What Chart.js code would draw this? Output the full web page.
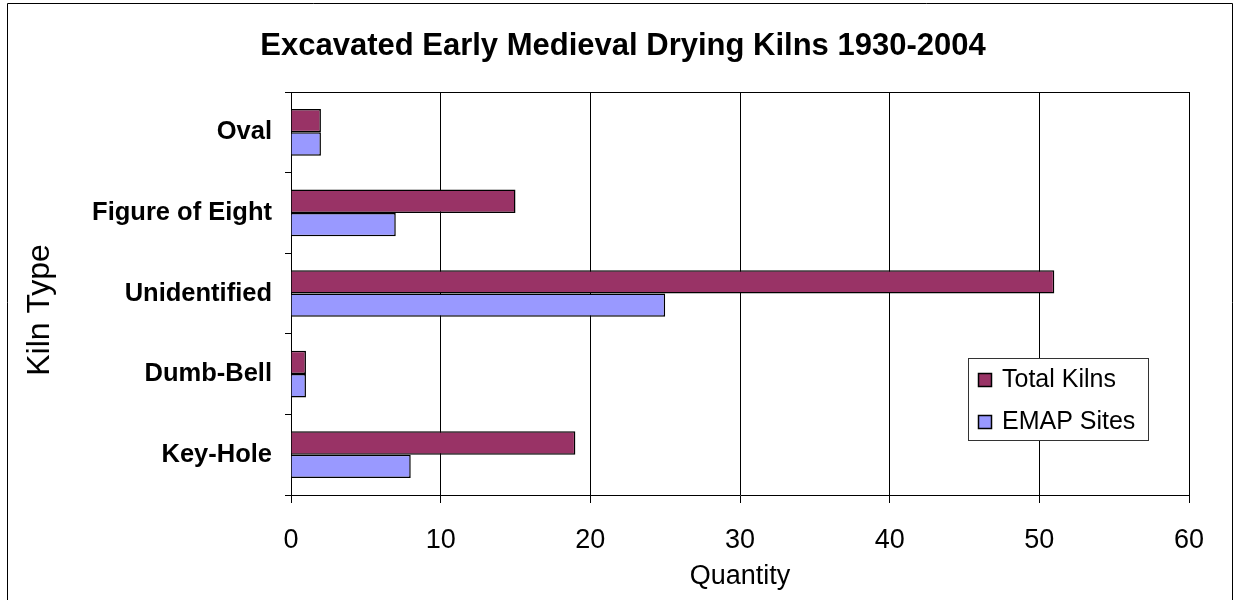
<!DOCTYPE html>
<html>
<head>
<meta charset="utf-8">
<title>Excavated Early Medieval Drying Kilns 1930-2004</title>
<script src="https://cdn.jsdelivr.net/npm/chart.js@4/dist/chart.umd.min.js"></script>
<style>
  html, body { margin: 0; padding: 0; background: #fff; }
  #wrap { width: 1236px; height: 600px; }
</style>
</head>
<body>
<div id="wrap"><canvas id="kilns" width="1236" height="600"></canvas></div>
<script>
// kiln types, listed top to bottom
var kilnTypes = ["Oval", "Figure of Eight", "Unidentified", "Dumb-Bell", "Key-Hole"];
var totalKilns = [2, 15, 51, 1, 19];
var emapSites = [2, 7, 25, 1, 8];
var seriesNames = ["Total Kilns", "EMAP Sites"];
var barColors = ["#993366", "#9999ff"];
var quantityTicks = [0, 10, 20, 30, 40, 50, 60];

var chartTitle = "Excavated Early Medieval Drying Kilns 1930-2004";
var fontFamily = "'Liberation Sans', Arial, sans-serif";

// frame round the whole chart, title, top line of the plot, y title and the boxed legend
var extras = {
  id: "extras",
  afterDraw: function(chart) {
    var ctx = chart.ctx;
    var area = chart.chartArea;
    ctx.save();

    ctx.strokeStyle = "#000";
    ctx.lineWidth = 1;
    ctx.beginPath();
    ctx.moveTo(7.5, 610);
    ctx.lineTo(7.5, 3.5);
    ctx.lineTo(1232.5, 3.5);
    ctx.lineTo(1232.5, 610);
    ctx.stroke();

    ctx.beginPath();
    ctx.moveTo(area.left, Math.round(area.top) + 0.5);
    ctx.lineTo(area.right, Math.round(area.top) + 0.5);
    ctx.stroke();

    // chart title, centred on the frame rather than the plot
    ctx.fillStyle = "#000";
    ctx.font = "bold 31px " + fontFamily;
    ctx.textAlign = "center";
    ctx.textBaseline = "middle";
    ctx.fillText(chartTitle, 623, 46);

    // y axis title
    ctx.font = "32px " + fontFamily;
    ctx.translate(40, 310);
    ctx.rotate(-Math.PI / 2);
    ctx.fillText("Kiln Type", 0, 0);
    ctx.setTransform(1, 0, 0, 1, 0, 0);

    // legend box
    ctx.fillStyle = "#fff";
    ctx.fillRect(968.5, 358.5, 180, 82);
    ctx.strokeStyle = "#333";
    ctx.strokeRect(968.5, 358.5, 180, 82);

    ctx.font = "25px " + fontFamily;
    ctx.textAlign = "left";
    chart.data.datasets.forEach(function(ds, i) {
      var y = 380 + i * 42;
      ctx.fillStyle = ds.backgroundColor;
      ctx.fillRect(978.5, y - 6.5, 13, 13);
      ctx.strokeStyle = "#000";
      ctx.lineWidth = 1.5;
      ctx.strokeRect(978.5, y - 6.5, 13, 13);
      ctx.fillStyle = "#000";
      ctx.fillText(ds.label, 1002, y);
    });
    ctx.restore();
  }
};

new Chart("kilns", {
  type: "bar",
  data: {
    labels: kilnTypes,
    datasets: [{
      label: seriesNames[0],
      data: totalKilns,
      backgroundColor: barColors[0],
      borderColor: "#000",
      borderWidth: 1.5,
      categoryPercentage: 0.58,
      barPercentage: 1
    }, {
      label: seriesNames[1],
      data: emapSites,
      backgroundColor: barColors[1],
      borderColor: "#000",
      borderWidth: 1.5,
      categoryPercentage: 0.58,
      barPercentage: 1
    }]
  },
  options: {
    indexAxis: "y",
    responsive: false,
    animation: false,
    devicePixelRatio: 1,
    layout: { padding: { left: 0, right: 47, top: 92, bottom: 0 } },
    plugins: {
      legend: { display: false },
      tooltip: { enabled: false },
      title: { display: false }
    },
    scales: {
      x: {
        min: 0,
        max: 60,
        afterBuildTicks: function(scale) {
          scale.ticks = quantityTicks.map(function(v) { return { value: v }; });
        },
        afterFit: function(scale) { scale.height = 105; },
        grid: { color: "#000", lineWidth: 1, tickLength: 8 },
        border: { color: "#000", width: 1 },
        ticks: {
          color: "#000",
          padding: 21,
          maxRotation: 0,
          font: { family: fontFamily, size: 27 }
        },
        title: {
          display: true,
          text: "Quantity",
          color: "#000",
          font: { family: fontFamily, size: 27 },
          padding: { top: 0, bottom: 7 }
        }
      },
      y: {
        afterFit: function(scale) { scale.width = 291; },
        grid: { offset: true, drawOnChartArea: false, color: "#000", tickLength: 6 },
        border: { color: "#000", width: 1 },
        ticks: {
          color: "#000",
          padding: 13,
          font: { family: fontFamily, size: 25.5, weight: "bold" }
        }
      }
    }
  },
  plugins: [extras]
});
</script>
</body>
</html>
